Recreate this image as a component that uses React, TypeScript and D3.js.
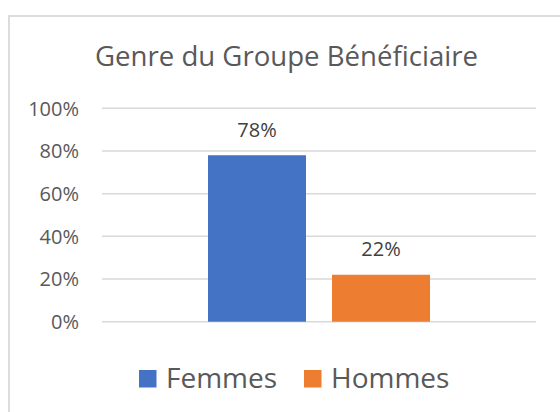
import React from "react";
import * as d3 from "d3";

const title = "Genre du Groupe Bénéficiaire";
const categories = ["Total"];
const seriesNames = ["Femmes", "Hommes"];
const seriesValues = [0.78, 0.22];
const seriesColors = ["#4472C4", "#ED7D31"];
const yTicks = [0, 0.2, 0.4, 0.6, 0.8, 1.0];

const W = 560;
const H = 412;
const FONT = "'Open Sans', sans-serif";

export default function App() {
  const plotLeft = 102;
  const plotRight = 536;
  const plotTop = 108.3;
  const plotBottom = 321.7;

  const y = d3.scaleLinear().domain([0, 1]).range([plotBottom, plotTop]);
  const x0 = d3
    .scaleBand<string>()
    .domain(categories)
    .range([plotLeft, plotRight])
    .paddingInner(0)
    .paddingOuter(0.4775);
  const x1 = d3
    .scaleBand<string>()
    .domain(seriesNames)
    .range([0, x0.bandwidth()])
    .paddingInner(0.2097)
    .paddingOuter(0);
  const pct = d3.format(".0%");

  const legendItems = [
    { name: seriesNames[0], color: seriesColors[0], sx: 139, tx: 166 },
    { name: seriesNames[1], color: seriesColors[1], sx: 304, tx: 331 },
  ];

  return (
    <svg
      width={W}
      height={H}
      style={{ position: "absolute", left: 0, top: 0, background: "#fff" }}
      fontFamily={FONT}
    >
      <rect x={0} y={0} width={W} height={H} fill="#fff" />
      <rect
        x={9}
        y={16}
        width={W + 20}
        height={H + 20}
        fill="none"
        stroke="#d9d9d9"
        strokeWidth={1.8}
      />
      <text
        x={286.5}
        y={66}
        textAnchor="middle"
        fontSize={27.6}
        fill="#595959"
      >
        {title}
      </text>
      {yTicks.map((t) => (
        <g key={t}>
          <line
            x1={plotLeft}
            x2={plotRight}
            y1={y(t)}
            y2={y(t)}
            stroke="#d9d9d9"
            strokeWidth={1.5}
          />
          <text
            x={79}
            y={y(t)}
            dy="0.36em"
            textAnchor="end"
            fontSize={20}
            fill="#595959"
          >
            {pct(t)}
          </text>
        </g>
      ))}
      {categories.map((c) => (
        <g key={c} transform={`translate(${x0(c)},0)`}>
          {seriesNames.map((s, i) => {
            const v = seriesValues[i];
            const bx = x1(s)!;
            const bw = x1.bandwidth();
            return (
              <g key={s}>
                <rect
                  x={bx}
                  y={y(v)}
                  width={bw}
                  height={y(0) - y(v)}
                  fill={seriesColors[i]}
                />
                <text
                  x={bx + bw / 2}
                  y={y(v) - 18.3}
                  textAnchor="middle"
                  fontSize={20}
                  fill="#404040"
                >
                  {pct(v)}
                </text>
              </g>
            );
          })}
        </g>
      ))}
      {legendItems.map((l) => (
        <g key={l.name}>
          <rect x={l.sx} y={370} width={17.5} height={17.5} fill={l.color} />
          <text x={l.tx} y={387.7} fontSize={28} fill="#595959">
            {l.name}
          </text>
        </g>
      ))}
    </svg>
  );
}
